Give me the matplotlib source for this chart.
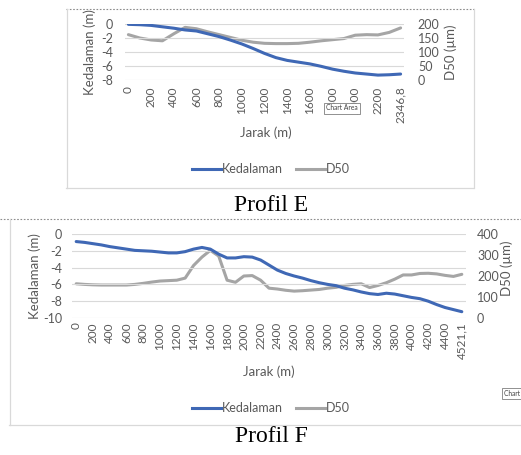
import matplotlib
matplotlib.use("Agg")
import matplotlib.pyplot as plt
from matplotlib.lines import Line2D

# ================================
# DATA
# ================================
jarak_e = ["0", "100", "200", "300", "400", "500", "600", "700", "800", "900",
           "1000", "1100", "1200", "1300", "1400", "1500", "1600", "1700",
           "1800", "1900", "2000", "2100", "2200", "2300", "2346,8"]
kedalaman_e = [-0.05, -0.1, -0.2, -0.4, -0.6, -0.85, -1.0, -1.4, -1.8, -2.3,
               -2.85, -3.5, -4.2, -4.8, -5.2, -5.45, -5.7, -6.05, -6.45, -6.75,
               -7.0, -7.15, -7.3, -7.25, -7.15]
d50_e = [162, 150, 143, 140, 165, 188, 183, 172, 162, 152,
         142, 135, 131, 130, 130, 131, 135, 140, 144, 148,
         160, 162, 161, 170, 186]

jarak_f = ["0", "100", "200", "300", "400", "500", "600", "700", "800", "900",
           "1000", "1100", "1200", "1300", "1400", "1500", "1600", "1700",
           "1800", "1900", "2000", "2100", "2200", "2300", "2400", "2500",
           "2600", "2700", "2800", "2900", "3000", "3100", "3200", "3300",
           "3400", "3500", "3600", "3700", "3800", "3900", "4000", "4100",
           "4200", "4300", "4400", "4500", "4521,1"]
kedalaman_f = [-0.9, -1.0, -1.15, -1.3, -1.5, -1.65, -1.8, -1.95, -2.0, -2.05,
               -2.15, -2.25, -2.25, -2.1, -1.8, -1.6, -1.8, -2.4, -2.85, -2.85,
               -2.7, -2.75, -3.1, -3.7, -4.3, -4.7, -5.0, -5.25, -5.55, -5.8,
               -6.0, -6.15, -6.45, -6.65, -6.9, -7.1, -7.2, -7.05, -7.15, -7.35,
               -7.55, -7.7, -8.0, -8.4, -8.75, -9.0, -9.25]
d50_f = [163, 160, 158, 157, 157, 157, 157, 160, 165, 171,
         176, 178, 180, 190, 250, 290, 322, 295, 180, 170,
         200, 202, 180, 142, 138, 132, 128, 130, 133, 136,
         142, 146, 155, 160, 163, 145, 155, 168, 185, 205,
         205, 212, 213, 210, 203, 198, 208]

BLUE = "#3F68B5"
GRAY = "#A5A5A5"
TXT = "#595959"
GRID = "#D9D9D9"
FONT = ["Lato", "DejaVu Sans"]

W, H = 521, 455
plt.rcParams["font.family"] = FONT


def box(x0, y0, x1, y1):
    """pixel box (top-left origin) -> figure fraction rect"""
    return [x0 / W, 1 - y1 / H, (x1 - x0) / W, (y1 - y0) / H]


def fx(x):
    return x / W


def fy(y):
    return 1 - y / H


def hline(fig, x0, x1, y, **kw):
    fig.add_artist(Line2D([fx(x0), fx(x1)], [fy(y), fy(y)],
                          transform=fig.transFigure, **kw))


def vline(fig, x, y0, y1, **kw):
    fig.add_artist(Line2D([fx(x), fx(x)], [fy(y0), fy(y1)],
                          transform=fig.transFigure, **kw))


def profile(fig, rect, cats, depth, d50, ylim_l, yticks_l, ylim_r, yticks_r,
            pads, pad_pts):
    ax = fig.add_axes(rect)
    n = len(cats)
    xs = list(range(n))
    ax.plot(xs, depth, color=BLUE, lw=2.2, solid_joinstyle="round",
            solid_capstyle="round", zorder=3)
    ax.set_xlim(-pads, n - 1 + pads)
    ax.set_ylim(*ylim_l)
    ax.set_yticks(yticks_l)
    ax.set_yticklabels([str(v) for v in yticks_l])
    ax.grid(axis="y", color=GRID, lw=0.8)
    ax.set_axisbelow(True)
    for s in ax.spines.values():
        s.set_visible(False)
    idx = xs[::2]
    ax.set_xticks(idx)
    ax.set_xticklabels([cats[i] for i in idx], rotation=90, va="top",
                       ha="center")
    ax.tick_params(axis="x", length=0, pad=pad_pts[0], labelsize=8.5,
                   labelcolor=TXT)
    ax.tick_params(axis="y", length=0, pad=pad_pts[1], labelsize=9,
                   labelcolor=TXT)

    ax2 = ax.twinx()
    ax2.plot(xs, d50, color=GRAY, lw=2.2, solid_joinstyle="round",
             solid_capstyle="round", zorder=2)
    ax2.set_ylim(*ylim_r)
    ax2.set_yticks(yticks_r)
    ax2.tick_params(axis="y", length=0, pad=pad_pts[2], labelsize=9,
                    labelcolor=TXT)
    for s in ax2.spines.values():
        s.set_visible(False)
    ax.set_zorder(ax2.get_zorder() + 1)
    ax.patch.set_visible(False)
    return ax


def legend(fig, xc, y):
    handles = [Line2D([], [], color=BLUE, lw=2.2),
               Line2D([], [], color=GRAY, lw=2.2)]
    fig.legend(handles, ["Kedalaman", "D50"], loc="center",
               bbox_to_anchor=(fx(xc), fy(y)), ncol=2, frameon=False,
               handlelength=2.3, handletextpad=0.1, columnspacing=1.0,
               fontsize=9, labelcolor=TXT)


def tooltip(fig, x, y, s):
    fig.text(fx(x), fy(y), s, fontsize=4.8, color="#404040", ha="left",
             va="center",
             bbox=dict(boxstyle="square,pad=0.3", fc="white", ec="#7F7F7F",
                       lw=0.6))


fig = plt.figure(figsize=(W / 100, H / 100), dpi=100)

# ---- chart frames ----
frame = dict(color=GRID, lw=0.9)
dash = dict(color="#8C8C8C", lw=0.8, ls=(0, (1.5, 1.5)))
hline(fig, 66, 475, 9, **dash)
vline(fig, 66.5, 9, 188, **frame)
vline(fig, 473.5, 9, 188, **frame)
hline(fig, 66, 473, 188, **frame)

hline(fig, 0, 521, 219, **dash)
vline(fig, 9.5, 219, 425, **frame)
hline(fig, 9, 521, 425, **frame)

# ---- Profil E ----
profile(fig, box(125, 24, 404, 80), jarak_e, kedalaman_e, d50_e,
        (-8, 0), [0, -2, -4, -6, -8], (0, 200), [0, 50, 100, 150, 200],
        pads=0.3, pad_pts=(4.5, 8.5, 10))
fig.text(fx(90), fy(52), "Kedalaman (m)", rotation=90, ha="center",
         va="center", fontsize=9.5, color=TXT)
fig.text(fx(451), fy(52), "D50 (µm)", rotation=90, ha="center",
         va="center", fontsize=9.5, color=TXT)
fig.text(fx(266), fy(133), "Jarak (m)", ha="center", va="center",
         fontsize=9.5, color=TXT)
legend(fig, 271, 169)
tooltip(fig, 326, 108, "Chart Area")
fig.text(fx(271), fy(206), "Profil E", ha="center", va="center",
         fontsize=17, family="Liberation Serif", color="black")

# ---- Profil F ----
profile(fig, box(72, 234, 466, 318), jarak_f, kedalaman_f, d50_f,
        (-10, 0), [0, -2, -4, -6, -8, -10], (0, 400), [0, 100, 200, 300, 400],
        pads=0.5, pad_pts=(3, 7, 8))
fig.text(fx(35), fy(276), "Kedalaman (m)", rotation=90, ha="center",
         va="center", fontsize=9.5, color=TXT)
fig.text(fx(507), fy(268), "D50 (µm)", rotation=90, ha="center",
         va="center", fontsize=9.5, color=TXT)
fig.text(fx(269), fy(372), "Jarak (m)", ha="center", va="center",
         fontsize=9.5, color=TXT)
legend(fig, 271, 408)
tooltip(fig, 504, 393, "Chart Area")
fig.text(fx(271), fy(437), "Profil F", ha="center", va="center",
         fontsize=17, family="Liberation Serif", color="black")

fig.savefig("out.png", dpi=100)
